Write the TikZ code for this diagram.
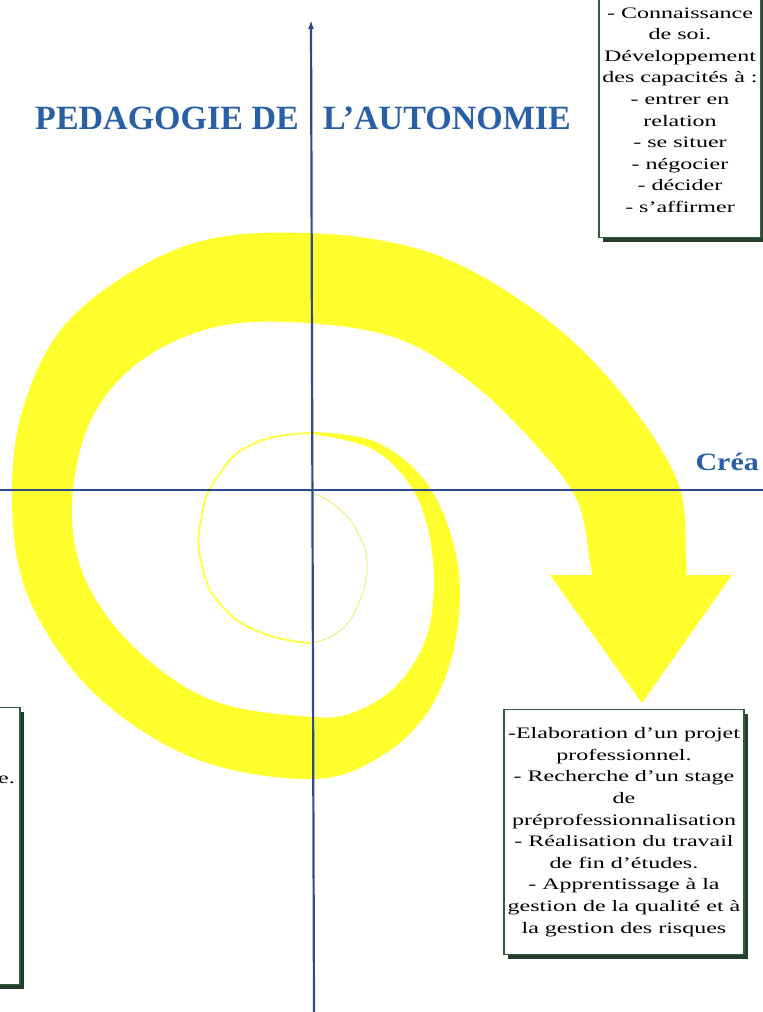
\documentclass[tikz,border=0pt]{standalone}
\usepackage{fontspec}
\setmainfont{Liberation Serif}
\newfontfamily\boxfont[FakeStretch=1.5]{Liberation Serif}
\newfontfamily\creafont[FakeStretch=1.2]{Liberation Serif}
\usetikzlibrary{arrows.meta,positioning,shadows}

\definecolor{spiralyellow}{RGB}{255,255,45}
\definecolor{paleyellow}{RGB}{240,240,150}
\definecolor{axisblue}{RGB}{45,75,140}
\definecolor{titleblue}{RGB}{40,95,165}
\definecolor{boxgreen}{RGB}{50,90,62}

\begin{document}
\begin{tikzpicture}[
    x=1pt, y=-1pt,
    axe/.style={draw=axisblue, line width=2.2pt},
    band/.style={fill=spiralyellow},
    boite/.style={rectangle, draw=boxgreen, line width=1.6pt, fill=white, align=center,
        font=\boxfont\fontsize{16}{21.6}\selectfont,
        drop shadow={shadow xshift=4pt, shadow yshift=-4pt, fill=boxgreen!70!black, opacity=1}},
    titre/.style={text=titleblue, font=\bfseries\fontsize{34}{37}\selectfont}
]
\useasboundingbox (0,0) rectangle (763,1012);
\clip (0,0) rectangle (763,1012);

% spiral
\fill[band] plot[smooth, tension=0.6] coordinates {(312,432) (376,442) (428,485) (457,559) (456,638) (431,707) (383,755) (313,779) (196,759) (95,694) (30,601) (12,505) (24,405) (74,315) (185,246) (307,233) (431,253) (537,312) (617,388) (677,480) (686,558) (686,575)}
  -- (732,575) -- (642,703) -- (550,575) -- (592,575)
  -- plot[smooth, tension=0.6] coordinates {(592,575) (590,562) (577,500) (534,443) (473,384) (399,339) (307,323) (215,327) (138,363) (90,422) (72,505) (86,581) (137,650) (214,701) (313,717) (357,711) (399,683) (428,632) (433,561) (416,495) (374,450) (312,434)}
  -- cycle;
\draw[paleyellow, line width=1.3pt] plot[smooth, tension=0.8] coordinates {(307,490) (337,507) (358,533) (367,567) (357,607) (337,633) (310,643)};
\draw[spiralyellow!85!white, line width=2pt] plot[smooth, tension=0.8] coordinates {(310,643) (262,633) (222,606) (202,566) (201,520) (218,476) (255,443) (312,433)};

% axes
\coordinate (origin) at (311,490);
\coordinate (ytop) at (311,20);
\coordinate (ybot) at (314,1012);
\coordinate (xleft) at (0,490);
\coordinate (xright) at (763,490);
\draw[axe] (xleft) -- (xright);
\draw[axe, -{Latex[length=9pt, width=6pt]}] (ybot) -- (ytop);

% labels
\node[titre] (title) at (303,118) {PEDAGOGIE DE\hspace{16pt} L’AUTONOMIE};
\node[text=titleblue, font=\creafont\bfseries\fontsize{25}{28}\selectfont, anchor=west] (crea) at (692,462) {Créa};

% boxes
\node[boite, minimum width=156pt, minimum height=255pt] (soi) at (680,110) {- Connaissance\\de soi.\\Développement\\des capacités à :\\- entrer en\\relation\\- se situer\\- négocier\\- décider\\- s’affirmer};
\node[boite, minimum width=240pt, minimum height=245pt] (projet) at (624,832) {-Elaboration d’un projet\\professionnel.\\- Recherche d’un stage\\de\\préprofessionnalisation\\- Réalisation du travail\\de fin d’études.\\- Apprentissage à la\\gestion de la qualité et à\\la gestion des risques};
\node[boite, minimum width=220pt, minimum height=277pt] (gauche) at (-90,846) {};
\node[font=\boxfont\fontsize{16}{21.6}\selectfont, anchor=east, inner sep=0pt] (fin) at (15,780) {e.};
\end{tikzpicture}
\end{document}
